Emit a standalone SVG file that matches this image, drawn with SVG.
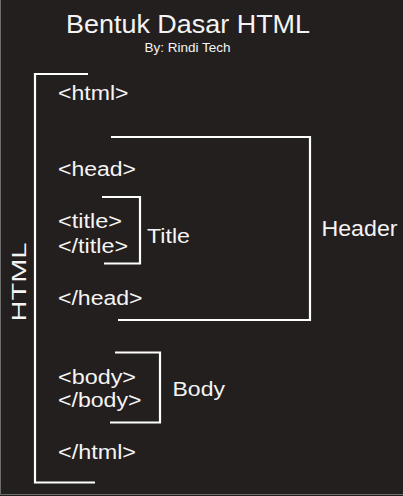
<svg xmlns="http://www.w3.org/2000/svg" width="403" height="496" viewBox="0 0 403 496">
<style>
.bg{fill:#231f1e}
.br{fill:none;stroke:#ffffff;stroke-width:2.2;stroke-linecap:butt;stroke-linejoin:miter}
.t{font-family:"Liberation Sans",Arial,sans-serif;fill:#f4f4f4}
.tag{font-size:20px}
.lbl{font-size:21px}
</style>
<rect class="bg" x="0" y="0" width="403" height="496"/>
<path d="M0.5 0 V494.5 H403" fill="none" stroke="#6e6e6e" stroke-width="1"/>
<g id="heading">
<text class="t" x="66" y="33" font-size="25.6" textLength="244" lengthAdjust="spacingAndGlyphs">Bentuk Dasar HTML</text>
<text class="t" x="144.5" y="51.7" font-size="13" textLength="86" lengthAdjust="spacingAndGlyphs">By: Rindi Tech</text>
</g>
<g id="connectors">
<path id="html-bracket" class="br" d="M88 74 H35 V482.5 H95"/>
<path id="header-bracket" class="br" d="M111 137 H310 V320 H118"/>
<path id="title-bracket" class="br" d="M102 197 H140 V263.5 H104"/>
<path id="body-bracket" class="br" d="M115 352.5 H160 V422.5 H110"/>
</g>
<g id="html-open"><text class="t tag" x="58" y="99.5" textLength="70.5" lengthAdjust="spacingAndGlyphs">&lt;html&gt;</text></g>
<g id="head-open"><text class="t tag" x="58" y="176" textLength="78" lengthAdjust="spacingAndGlyphs">&lt;head&gt;</text></g>
<g id="title-open"><text class="t tag" x="58" y="228" textLength="64" lengthAdjust="spacingAndGlyphs">&lt;title&gt;</text></g>
<g id="title-close"><text class="t tag" x="58" y="253" textLength="70" lengthAdjust="spacingAndGlyphs">&lt;/title&gt;</text></g>
<g id="title-label"><text class="t lbl" x="147" y="243" textLength="43" lengthAdjust="spacingAndGlyphs">Title</text></g>
<g id="head-close"><text class="t tag" x="58" y="305" textLength="84.5" lengthAdjust="spacingAndGlyphs">&lt;/head&gt;</text></g>
<g id="header-label"><text class="t" x="321.5" y="236" font-size="22" textLength="76" lengthAdjust="spacingAndGlyphs">Header</text></g>
<g id="body-open"><text class="t tag" x="58" y="384" textLength="78" lengthAdjust="spacingAndGlyphs">&lt;body&gt;</text></g>
<g id="body-close"><text class="t tag" x="58" y="407" textLength="83.5" lengthAdjust="spacingAndGlyphs">&lt;/body&gt;</text></g>
<g id="body-label"><text class="t lbl" x="172.5" y="396" textLength="52.5" lengthAdjust="spacingAndGlyphs">Body</text></g>
<g id="html-close"><text class="t tag" x="58" y="459" textLength="78" lengthAdjust="spacingAndGlyphs">&lt;/html&gt;</text></g>
<g id="html-label"><text class="t" transform="translate(25.5 321.5) rotate(-90)" x="0" y="0" font-size="21" textLength="79" lengthAdjust="spacingAndGlyphs">HTML</text></g>
</svg>
